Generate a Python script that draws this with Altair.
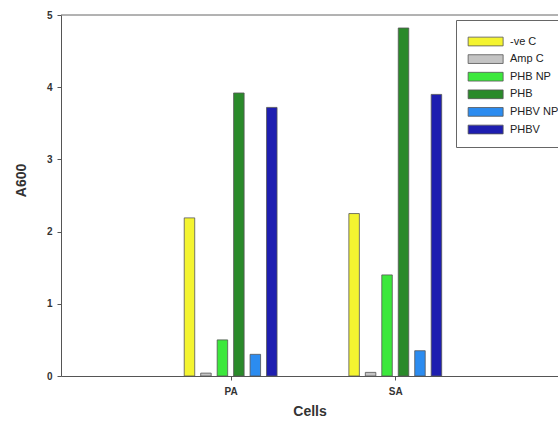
import altair as alt
import pandas as pd

# Absorbance readings per treatment for each cell type
series = ["-ve C", "Amp C", "PHB NP", "PHB", "PHBV NP", "PHBV"]
cells = ["PA", "SA"]
pa_values = [2.19, 0.04, 0.50, 3.92, 0.30, 3.72]
sa_values = [2.25, 0.05, 1.40, 4.82, 0.35, 3.90]
colors = ["#f4f430", "#c4c4c4", "#3ce83c", "#2a8a2a", "#2c8cf0", "#1e1eb0"]

rows = []
for g, (cell, vals) in enumerate(zip(cells, [pa_values, sa_values]), start=1):
    for i, (s, v) in enumerate(zip(series, vals)):
        rows.append({"cell": cell, "group": g, "idx": i, "series": s, "A600": v})
df = pd.DataFrame(rows)

FONT = "Liberation Sans"

# Wide legend swatch: a custom path extending to the right of the nominal symbol box
SWATCH = "M-1,-1H7V1H-1Z"

bars = (
    alt.Chart(df)
    .transform_calculate(pos="datum.group + (datum.idx - 2.5) * 0.1")
    .mark_bar(size=10.5, stroke="#555555", strokeWidth=0.8)
    .encode(
        x=alt.X(
            "pos:Q",
            scale=alt.Scale(domain=[0, 2.958], nice=False, zero=False),
            axis=alt.Axis(
                values=[1, 2],
                labelExpr="datum.value == 1 ? 'PA' : 'SA'",
                title="Cells",
                grid=False,
                domainColor="#555555",
                tickColor="#555555",
                tickSize=4,
                labelFont=FONT,
                labelFontWeight="bold",
                labelFontSize=10,
                labelColor="#333333",
                labelPadding=6,
                titleFont=FONT,
                titleFontWeight="bold",
                titleFontSize=14,
                titleColor="#333333",
                titlePadding=8,
            ),
        ),
        y=alt.Y(
            "A600:Q",
            scale=alt.Scale(domain=[0, 5], nice=False),
            axis=alt.Axis(
                values=[0, 1, 2, 3, 4, 5],
                format="d",
                title="A600",
                grid=False,
                domainColor="#555555",
                tickColor="#555555",
                tickSize=4,
                labelFont=FONT,
                labelFontWeight="bold",
                labelFontSize=10,
                labelColor="#333333",
                labelPadding=5,
                titleFont=FONT,
                titleFontWeight="bold",
                titleFontSize=14,
                titleColor="#333333",
                titleX=-33,
                titleY=165,
            ),
        ),
        color=alt.Color(
            "series:N",
            scale=alt.Scale(domain=series, range=colors),
            legend=alt.Legend(
                title=" ",
                titleFontSize=1,
                titlePadding=4,
                orient="none",
                legendX=395,
                legendY=5,
                symbolType=SWATCH,
                symbolSize=76.5625,
                symbolStrokeColor="#555555",
                symbolStrokeWidth=0.8,
                labelFont=FONT,
                labelFontSize=11,
                labelColor="#222222",
                labelOffset=32,
                strokeColor="#666666",
                fillColor="#ffffff",
                padding=11,
                rowPadding=4.6,
            ),
        ),
    )
)

top_line = (
    alt.Chart(pd.DataFrame({"v": [5]}))
    .mark_rule(color="#666666", strokeWidth=1)
    .encode(y="v:Q")
)

chart = (
    alt.layer(bars, top_line)
    .properties(
        width=497,
        height=361,
        padding={"left": 61, "top": 15, "right": 0, "bottom": 47},
        autosize=alt.AutoSizeParams(type="none"),
        background="white",
    )
    .configure_view(stroke=None)
)

chart.save("out.html", embed_options={"renderer": "svg", "actions": False})
